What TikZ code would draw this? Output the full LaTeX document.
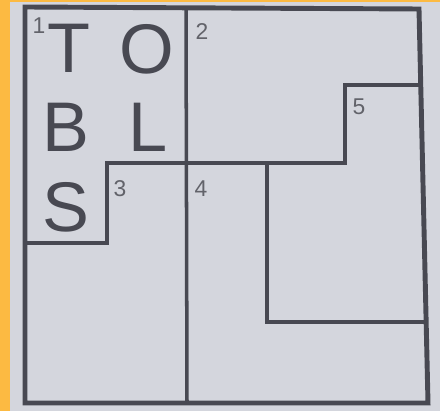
\documentclass[tikz,border=0pt]{standalone}
\usepackage{fontspec}
\setmainfont{Liberation Sans}
\usetikzlibrary{positioning}
\definecolor{pzOrange}{RGB}{252,186,66}
\definecolor{pzPaper}{RGB}{212,214,221}
\definecolor{pzInk}{RGB}{72,73,82}
\definecolor{pzNum}{RGB}{98,99,106}

\begin{document}
\begin{tikzpicture}[x=0.02cm,y=-0.02cm,
      frame/.style={pzInk,line width=2.8pt,line join=miter},
      wall/.style={pzInk,line width=2pt,line join=miter},
      big/.style={inner sep=0pt,text=pzInk,font=\fontsize{40}{40}\selectfont},
      num/.style={inner sep=0pt,text=pzNum,font=\fontsize{13}{13}\selectfont}]
    \useasboundingbox (0,0) rectangle (440,411);
    \fill[pzOrange] (0,0) rectangle (440,411);
    \fill[pzPaper] (10,2) rectangle (440,411);
    % corners of the grid (photo is a bit skewed on the right)
    \coordinate (tl) at (25,7);
    \coordinate (tr) at (419,9);
    \coordinate (br) at (428,403);
    \coordinate (bl) at (25,403);
    \coordinate (r5) at (421,85);
    \coordinate (r4) at (426,322);
    % inner walls
    \draw[wall] (186,7) -- (187,403);
    \draw[wall] (25,243) -- (107,243) -- (107,163) -- (345,163) -- (345,85) -- (r5);
    \draw[wall] (267,163) -- (267,322) -- (r4);
    \draw[frame] (tl) -- (tr) -- (br) -- (bl) -- cycle;
    % letters and clue numbers
    \foreach \x/\y/\txt [count=\i] in {69/48/T, 147/49/O, 66/127/B, 148/127/L, 66/207/S} {
      \node[big] (let\i) at (\x,\y) {\txt};
    }
    \foreach \x/\y/\txt in {39/26/1, 202/32/2, 120/189/3, 201/189/4, 359/107/5} {
      \node[num] (num\txt) at (\x,\y) {\txt};
    }
  \end{tikzpicture}
\end{document}
